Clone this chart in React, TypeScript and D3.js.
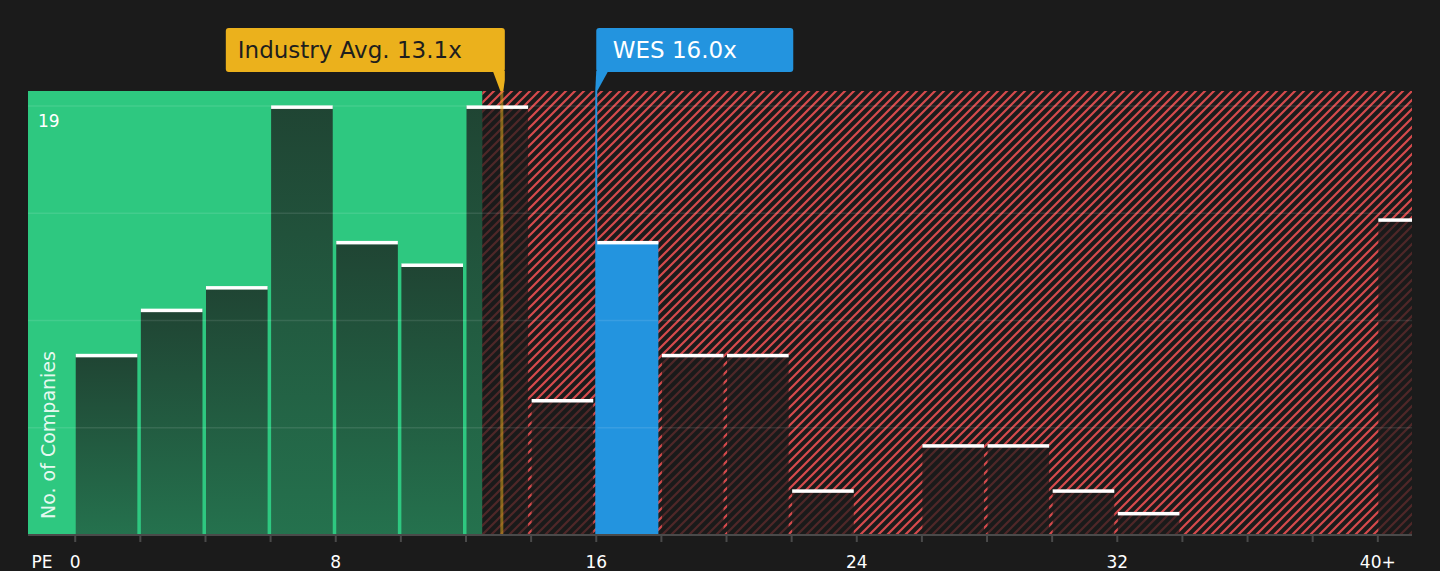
import { useEffect, useRef } from 'react';
import * as d3 from 'd3';

// PE bins (each 2 wide, last one is "40+")
const binStarts = [0, 2, 4, 6, 8, 10, 12, 14, 16, 18, 20, 22, 24, 26, 28, 30, 32, 34, 36, 38, 40];
const companyCounts = [8, 10, 11, 19, 13, 12, 19, 6, 13, 8, 8, 2, 0, 4, 4, 2, 1, 0, 0, 0, 14];
const tickValues = [0, 2, 4, 6, 8, 10, 12, 14, 16, 18, 20, 22, 24, 26, 28, 30, 32, 34, 36, 38, 40];
const labelValues = [0, 8, 16, 24, 32, 40];
const labelTexts = ['0', '8', '16', '24', '32', '40+'];
const gridValues = [4.75, 9.5, 14.25, 19];
const yLabelValues = [19];

const industryAvg = 13.1;
const companyPE = 16.0;
const companyName = 'WES';
const fairEnd = 12.5;

const W = 1440;
const H = 571;

const App = () => {
  const svgRef = useRef<SVGSVGElement | null>(null);

  useEffect(() => {
    const svg = d3.select(svgRef.current);
    svg.selectAll('*').remove();

    const plot = { left: 28, right: 1412, top: 91, bottom: 535 };
    const font = 'DejaVu Sans, sans-serif';

    const x = d3.scaleLinear().domain([-1.45, 41.05]).range([plot.left, plot.right]);
    const y = d3.scaleLinear().domain([0, 19.66]).range([plot.bottom, plot.top]);

    const bg = '#1b1b1b';
    const green = '#2ec880';
    const red = '#d64a4c';
    const gold = '#ebb11c';
    const blue = '#2394df';

    svg.append('rect').attr('width', W).attr('height', H).attr('fill', bg);

    const defs = svg.append('defs');
    const hp = 9;
    const hatch = defs.append('pattern')
      .attr('id', 'hatch')
      .attr('patternUnits', 'userSpaceOnUse')
      .attr('width', hp)
      .attr('height', hp);
    hatch.append('path')
      .attr('d', `M-2,2 L2,-2 M0,${hp} L${hp},0 M${hp - 2},${hp + 2} L${hp + 2},${hp - 2}`)
      .attr('stroke', red)
      .attr('stroke-width', 2.2);

    const grad = defs.append('linearGradient')
      .attr('id', 'barGrad')
      .attr('x1', 0).attr('y1', 0).attr('x2', 0).attr('y2', 1);
    grad.append('stop').attr('offset', '0%').attr('stop-color', bg).attr('stop-opacity', 0.76);
    grad.append('stop').attr('offset', '100%').attr('stop-color', bg).attr('stop-opacity', 0.5);

    const xFair = x(fairEnd);
    defs.append('clipPath').attr('id', 'clipGreen')
      .append('rect').attr('x', plot.left).attr('y', plot.top)
      .attr('width', xFair - plot.left).attr('height', plot.bottom - plot.top);
    defs.append('clipPath').attr('id', 'clipRed')
      .append('rect').attr('x', xFair).attr('y', plot.top)
      .attr('width', plot.right - xFair).attr('height', plot.bottom - plot.top);
    defs.append('clipPath').attr('id', 'clipPlot')
      .append('rect').attr('x', plot.left).attr('y', plot.top)
      .attr('width', plot.right - plot.left).attr('height', plot.bottom - plot.top);

    // Background zones
    svg.append('rect')
      .attr('x', plot.left).attr('y', plot.top)
      .attr('width', xFair - plot.left).attr('height', plot.bottom - plot.top)
      .attr('fill', green);
    svg.append('rect')
      .attr('x', xFair).attr('y', plot.top)
      .attr('width', plot.right - xFair).attr('height', plot.bottom - plot.top)
      .attr('fill', 'url(#hatch)');

    const bins = binStarts.map((s, i) => ({ start: s, count: companyCounts[i] }))
      .filter(d => d.count > 0);
    const barX = (d: { start: number }) => x(d.start) + 0.5;
    const barW = (d: { start: number }) => x(d.start + 2) - x(d.start) - 3.5;
    const isCompany = (d: { start: number }) => companyPE >= d.start && companyPE < d.start + 2;

    // Bars over green zone
    svg.append('g').attr('clip-path', 'url(#clipGreen)')
      .selectAll('rect')
      .data(bins.filter(d => !isCompany(d)))
      .enter()
      .append('rect')
      .attr('x', barX)
      .attr('y', d => y(d.count))
      .attr('width', barW)
      .attr('height', d => plot.bottom - y(d.count))
      .attr('fill', 'url(#barGrad)');

    // Bars over red zone
    svg.append('g').attr('clip-path', 'url(#clipRed)')
      .selectAll('rect')
      .data(bins.filter(d => !isCompany(d)))
      .enter()
      .append('rect')
      .attr('x', barX)
      .attr('y', d => y(d.count))
      .attr('width', barW)
      .attr('height', d => plot.bottom - y(d.count))
      .attr('fill', bg)
      .attr('fill-opacity', 0.72);

    // Company bar
    svg.append('g').attr('clip-path', 'url(#clipPlot)')
      .selectAll('rect')
      .data(bins.filter(isCompany))
      .enter()
      .append('rect')
      .attr('x', barX)
      .attr('y', d => y(d.count))
      .attr('width', barW)
      .attr('height', d => plot.bottom - y(d.count))
      .attr('fill', blue);

    // Grid lines
    svg.append('g')
      .selectAll('line')
      .data(gridValues)
      .enter()
      .append('line')
      .attr('x1', plot.left).attr('x2', plot.right)
      .attr('y1', d => y(d)).attr('y2', d => y(d))
      .attr('stroke', '#fff')
      .attr('stroke-opacity', 0.1)
      .attr('stroke-width', 1.5);

    // White caps
    svg.append('g').attr('clip-path', 'url(#clipPlot)')
      .selectAll('rect')
      .data(bins)
      .enter()
      .append('rect')
      .attr('x', barX)
      .attr('y', d => y(d.count) - 0.5)
      .attr('width', barW)
      .attr('height', 3.5)
      .attr('fill', '#fff');

    // Industry avg line + company line
    const xAvg = x(industryAvg);
    const xCo = x(companyPE);
    svg.append('line')
      .attr('x1', xAvg).attr('x2', xAvg)
      .attr('y1', plot.top).attr('y2', plot.bottom)
      .attr('stroke', gold).attr('stroke-opacity', 0.5).attr('stroke-width', 3);
    svg.append('line')
      .attr('x1', xCo).attr('x2', xCo)
      .attr('y1', plot.top).attr('y2', plot.bottom)
      .attr('stroke', blue).attr('stroke-width', 2);

    // Axis
    svg.append('line')
      .attr('x1', plot.left).attr('x2', plot.right)
      .attr('y1', plot.bottom).attr('y2', plot.bottom)
      .attr('stroke', '#4a4a4a').attr('stroke-width', 2);
    svg.append('g')
      .selectAll('line')
      .data(tickValues)
      .enter()
      .append('line')
      .attr('x1', d => x(d)).attr('x2', d => x(d))
      .attr('y1', plot.bottom).attr('y2', plot.bottom + 7)
      .attr('stroke', '#4a4a4a').attr('stroke-width', 2);
    svg.append('g')
      .selectAll('text')
      .data(labelValues)
      .enter()
      .append('text')
      .attr('x', d => x(d))
      .attr('y', 568)
      .attr('text-anchor', 'middle')
      .attr('fill', '#fff')
      .attr('font-family', font)
      .attr('font-size', 17)
      .text((_, i) => labelTexts[i]);
    svg.append('text')
      .attr('x', 31.5).attr('y', 568)
      .attr('fill', '#fff')
      .attr('font-family', font)
      .attr('font-size', 17)
      .text('PE');

    // Y labels
    svg.append('g')
      .selectAll('text')
      .data(yLabelValues)
      .enter()
      .append('text')
      .attr('x', 38)
      .attr('y', d => y(d) + 21)
      .attr('fill', '#fff')
      .attr('font-family', font)
      .attr('font-size', 17)
      .text(d => String(d));
    svg.append('text')
      .attr('transform', `translate(55,${plot.bottom - 16}) rotate(-90)`)
      .attr('fill', '#fff')
      .attr('fill-opacity', 0.9)
      .attr('font-family', font)
      .attr('font-size', 19)
      .text('No. of Companies');

    // Callout boxes
    const boxTop = 28;
    const boxBottom = 72;
    const avgRight = xAvg + 3;
    const avgLeft = avgRight - 279;
    svg.append('rect')
      .attr('x', avgLeft).attr('y', boxTop)
      .attr('width', avgRight - avgLeft).attr('height', boxBottom - boxTop)
      .attr('rx', 3).attr('fill', gold);
    svg.append('path')
      .attr('d', `M${avgRight - 12},${boxBottom - 1} L${avgRight},${boxBottom - 1} L${avgRight},${boxBottom + 8} L${xAvg + 1.5},${plot.top} L${xAvg - 1.5},${plot.top} Z`)
      .attr('fill', gold);
    svg.append('text')
      .attr('x', avgLeft + 12).attr('y', 58)
      .attr('fill', '#1e1e1e')
      .attr('font-family', font)
      .attr('font-size', 23)
      .text(`Industry Avg. ${industryAvg.toFixed(1)}x`);

    const coLeft = xCo;
    const coRight = coLeft + 197;
    svg.append('rect')
      .attr('x', coLeft).attr('y', boxTop)
      .attr('width', coRight - coLeft).attr('height', boxBottom - boxTop)
      .attr('rx', 3).attr('fill', blue);
    svg.append('path')
      .attr('d', `M${coLeft},${boxBottom - 1} L${coLeft + 12},${boxBottom - 1} L${xCo + 1},${plot.top} L${xCo - 1},${plot.top} Z`)
      .attr('fill', blue);
    svg.append('text')
      .attr('x', coLeft + 16.5).attr('y', 58)
      .attr('fill', '#fff')
      .attr('font-family', font)
      .attr('font-size', 23)
      .text(`${companyName} ${companyPE.toFixed(1)}x`);
  }, []);

  return (
    <svg
      ref={svgRef}
      width={W}
      height={H}
      style={{ position: 'absolute', left: 0, top: 0, display: 'block' }}
    ></svg>
  );
};

export default App;
